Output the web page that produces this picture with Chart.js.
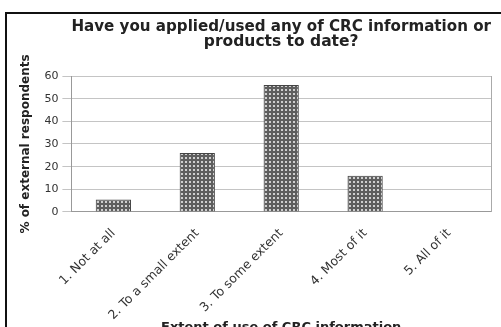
<!DOCTYPE html>
<html>
<head>
<meta charset="utf-8">
<script src="https://cdn.jsdelivr.net/npm/chart.js@4/dist/chart.umd.min.js"></script>
<style>
  html, body { margin: 0; padding: 0; background: #fff; overflow: hidden; }
  #frame { position: absolute; left: 5px; top: 12px; width: 600px; height: 400px; border: 2px solid #111; }
  #wrap { position: absolute; left: 0; top: 0; width: 501px; height: 334px; }
</style>
</head>
<body>
<div id="frame"></div>
<div id="wrap"><canvas id="chart"></canvas></div>
<script>
const categories = ["1. Not at all", "2. To a small extent", "3. To some extent", "4. Most of it", "5. All of it"];
const values = [5.5, 26, 56, 16, 0];
const yTicks = [0, 10, 20, 30, 40, 50, 60];

function dotPattern() {
    let c = document.createElement('canvas')
    c.width = 4
    c.height = 4
    let g = c.getContext('2d')
    g.fillStyle = '#5e5e5e'
    g.fillRect(0, 0, 4, 4)
    g.fillStyle = '#cfcfcf'
    g.fillRect(1, 1, 2, 2)
    return g.createPattern(c, 'repeat')
}

const font = 'DejaVu Sans'

window.onload = function () {
    let context = document.querySelector("#chart").getContext('2d')
    new Chart(context, {
        type: 'bar',
        data: {
            labels: categories,
            datasets: [{
                data: values,
                backgroundColor: dotPattern(),
                borderColor: '#444',
                borderWidth: 1,
                barPercentage: 0.42,
                categoryPercentage: 1
            }]
        },
        options: {
            responsive: true,
            maintainAspectRatio: false,
            animation: false,
            layout: { padding: { left: 15, top: 19, right: 10, bottom: 0 } },
            plugins: {
                legend: { display: false },
                tooltip: { enabled: false },
                title: {
                    display: true,
                    fullSize: false,
                    text: ["Have you applied/used any of CRC information or", "products to date?"],
                    color: '#222',
                    font: { family: font, size: 15.5, weight: 'bold', lineHeight: 1.0 },
                    padding: { top: 0, bottom: 26 }
                }
            },
            scales: {
                x: {
                    grid: { display: false },
                    border: { color: '#999' },
                    ticks: {
                        color: '#333',
                        font: { family: font, size: 12.5 },
                        maxRotation: 45,
                        minRotation: 45,
                        padding: 6
                    },
                    title: {
                        display: true,
                        text: 'Extent of use of CRC information',
                        color: '#222',
                        font: { family: font, size: 13, weight: 'bold', lineHeight: 1.0 },
                        padding: { top: -8, bottom: 0 }
                    }
                },
                y: {
                    min: 0,
                    max: 60,
                    afterBuildTicks: function (axis) {
                        axis.ticks = yTicks.map(v => ({ value: v }))
                    },
                    grid: { color: '#c4c4c4', drawTicks: true, tickLength: 9 },
                    border: { color: '#999' },
                    ticks: {
                        color: '#333',
                        font: { family: font, size: 11 },
                        padding: 4
                    },
                    title: {
                        display: true,
                        text: '% of external respondents',
                        color: '#222',
                        font: { family: font, size: 12, weight: 'bold' },
                        padding: { bottom: 7 }
                    }
                },
                y2: {
                    position: 'right',
                    min: 0,
                    max: 60,
                    grid: { drawOnChartArea: false, drawTicks: false },
                    border: { color: '#aaa' },
                    ticks: { display: false }
                }
            }
        }
    });
}
</script>
</body>
</html>
